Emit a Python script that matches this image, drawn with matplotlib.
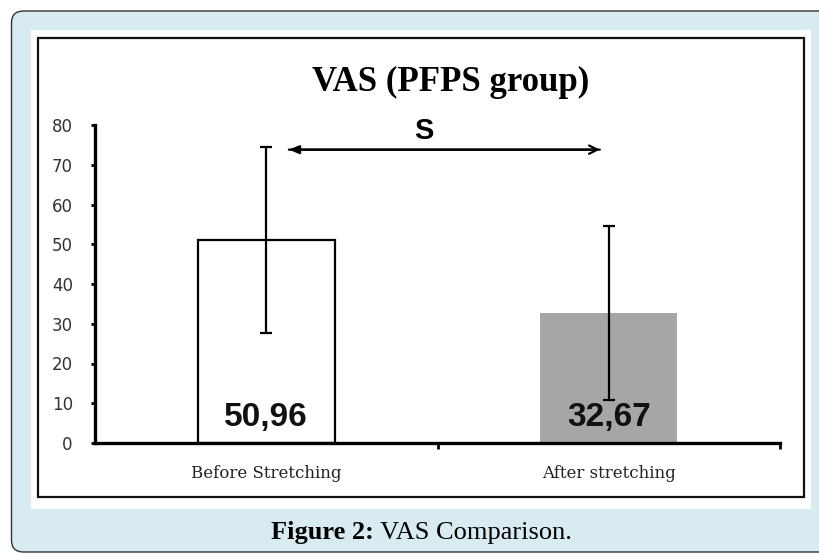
import numpy as np
import matplotlib
matplotlib.use("Agg")
import matplotlib.pyplot as plt
from matplotlib.patches import FancyBboxPatch, Rectangle
from matplotlib.transforms import IdentityTransform

groups = ["Before Stretching", "After stretching"]
means = [50.96, 32.67]
sds = [23.4, 21.8]
value_labels = ["50,96", "32,67"]
bar_colors = ["white", "#a6a6a6"]

fig = plt.figure(figsize=(8.19, 5.54), dpi=100)
fig.patch.set_facecolor("white")
px = IdentityTransform()
H = 554

# light blue frame, white panel, black box (pixel coordinates)
fig.patches.append(FancyBboxPatch((11.5, 2), 830, 541, boxstyle="round,pad=0,rounding_size=12",
                                  transform=px, facecolor="#d7ebf0", edgecolor="#333333", lw=1.0, zorder=-3))
fig.patches.append(Rectangle((31, H - 509), 780, 479, transform=px, facecolor="white", edgecolor="none",
                             zorder=-2))
fig.patches.append(Rectangle((38, H - 497), 766, 459, transform=px, facecolor="white",
                             edgecolor="#111111", lw=1.6, zorder=-1))

ax = fig.add_axes([95 / 819, 1 - 443 / 554, (780 - 95) / 819, (443 - 125) / 554])
ax.set_facecolor("none")
x = np.arange(len(groups))
ax.bar(x, means, width=0.4, color=bar_colors, edgecolor=["black", "none"], linewidth=1.6, zorder=2)
ax.errorbar(x, means, yerr=sds, fmt="none", ecolor="black", elinewidth=1.6, capsize=4, capthick=1.6, zorder=3)

for xi, lab in zip(x, value_labels):
    ax.text(xi, 4.3, lab, ha="center", va="baseline", fontsize=24, fontweight="bold",
            family="Liberation Sans", color="#111111", zorder=4)

# significance arrow: filled head left, open head right
ax.annotate("", xy=(0.066, 73.8), xytext=(0.974, 73.8),
            arrowprops=dict(arrowstyle="-|>,head_length=0.6,head_width=0.25", color="black", lw=1.6,
                            shrinkA=0, shrinkB=0))
ax.annotate("", xy=(0.974, 73.8), xytext=(0.066, 73.8),
            arrowprops=dict(arrowstyle="->,head_length=0.6,head_width=0.3", color="black", lw=1.6,
                            shrinkA=0, shrinkB=0))
ax.text(0.46, 78.6, "S", ha="center", va="center", fontsize=21, fontweight="bold", family="Liberation Sans")

ax.set_xlim(-0.5, 1.5)
ax.set_ylim(0, 80)
ax.set_yticks(range(0, 81, 10))
ax.set_xticks(x)
ax.set_xticklabels(groups, family="DejaVu Serif", fontsize=12, color="#222222")
ax.set_xticks([0.5, 1.5], minor=True)
ax.tick_params(axis="x", which="major", length=0, pad=16)
ax.tick_params(axis="x", which="minor", length=4, width=2, direction="out")
ax.tick_params(axis="y", length=3, width=2, direction="out", labelsize=12, labelcolor="#333333", pad=13)
for s in ["top", "right"]:
    ax.spines[s].set_visible(False)
ax.spines["left"].set_linewidth(2.4)
ax.spines["bottom"].set_linewidth(2.4)

fig.text(451 / 819, 1 - 82 / 554, "VAS (PFPS group)", ha="center", va="center", fontsize=25,
         fontweight="bold", family="Liberation Serif")

# caption: bold "Figure 2:" followed by regular text
t1 = fig.text(0, 0, "Figure 2:", fontsize=19, fontweight="bold", family="Liberation Serif")
t2 = fig.text(0, 0, " VAS Comparison.", fontsize=19, family="Liberation Serif")
fig.canvas.draw()
r = fig.canvas.get_renderer()
w1 = t1.get_window_extent(r).width
w2 = t2.get_window_extent(r).width
x0 = 421 - (w1 + w2) / 2
t1.set_position((x0 / 819, 1 - 533 / 554))
t1.set_va("center")
t2.set_position(((x0 + w1) / 819, 1 - 533 / 554))
t2.set_va("center")

fig.savefig("out.png", dpi=100)
